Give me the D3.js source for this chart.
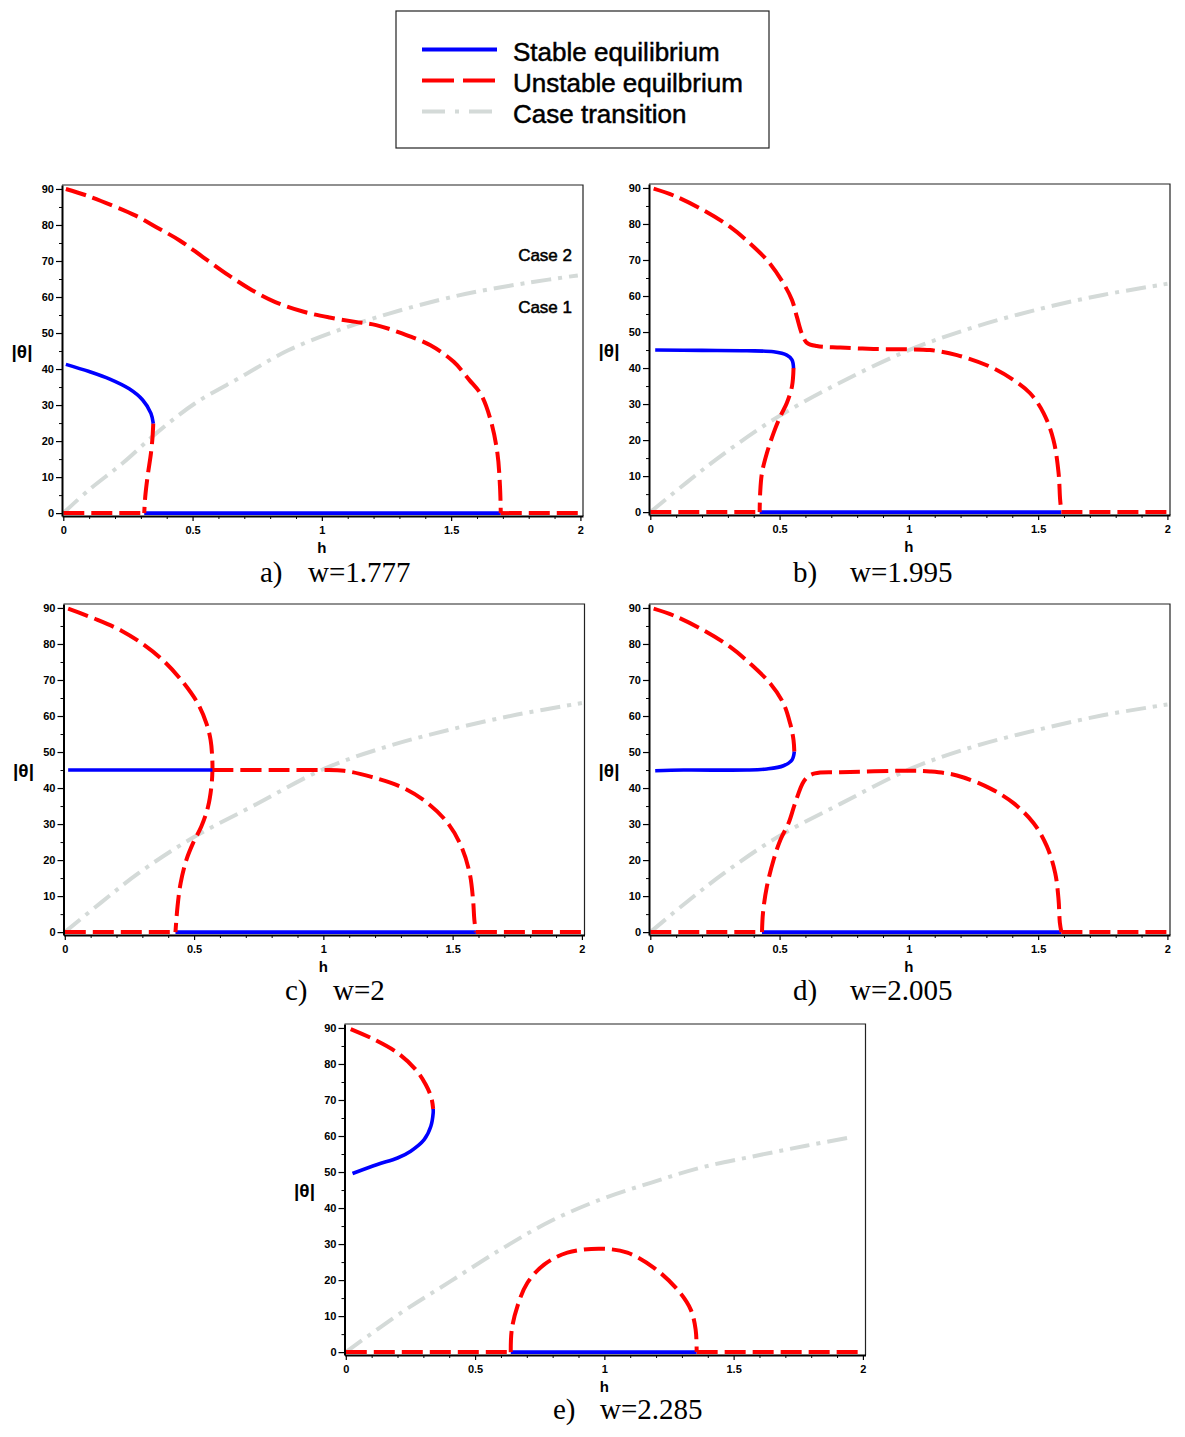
<!DOCTYPE html>
<html>
<head>
<meta charset="utf-8">
<script src="https://cdn.jsdelivr.net/npm/d3@7"></script>
<style>
    body { margin: 0; background: #fff; }
    svg { display: block; }
    .tick text { font-family: "Liberation Sans", Arial, sans-serif; font-weight: bold; font-size: 11px; fill: #000; }
    .axis-title { font-family: "Liberation Sans", Arial, sans-serif; font-weight: bold; }
    .caption { font-family: "Liberation Serif", "Times New Roman", serif; font-size: 29px; }
    .legend-text, .case-label { font-family: "Liberation Sans", Arial, sans-serif; stroke: #000; stroke-width: 0.5px; }
</style>
</head>
<body>
<svg id="chart" width="1185" height="1437"></svg>
<script>
// axis ticks
const hTicks = [0, 0.5, 1, 1.5, 2];
const hTickLabels = ['0', '0.5', '1', '1.5', '2'];
const hMinorTicks = [0.1, 0.2, 0.3, 0.4, 0.6, 0.7, 0.8, 0.9, 1.1, 1.2, 1.3, 1.4, 1.6, 1.7, 1.8, 1.9];
const thetaTicks = [0, 10, 20, 30, 40, 50, 60, 70, 80, 90];
const thetaMinorTicks = [5, 15, 25, 35, 45, 55, 65, 75, 85];

const legendLabels = ['Stable equilibrium', 'Unstable equilbrium', 'Case transition'];

// panel a) w=1.777   [h, |theta|]
const aUnstableUpper = [[0.01, 90], [0.09, 88.2], [0.19, 85.4], [0.28, 82.6], [0.36, 79.4], [0.45, 75.7], [0.54, 71.1], [0.64, 66], [0.73, 61.9], [0.82, 58.6], [0.93, 55.9], [1.03, 54.3], [1.13, 53.1], [1.21, 52.2], [1.31, 49.9], [1.42, 46.6], [1.51, 42], [1.57, 37], [1.615, 33], [1.653, 25.8], [1.679, 16.6], [1.689, 7.3], [1.692, 0]];
const aStableUpper = [[0.01, 41.3], [0.1, 39.3], [0.18, 37.2], [0.255, 34.5], [0.307, 31.4], [0.339, 27.7], [0.348, 24.9]];
const aUnstableLower = [[0.348, 24.9], [0.345, 21], [0.339, 16.6], [0.326, 10.2], [0.317, 4.6], [0.313, 0]];
const aZeroSplit = [0.313, 1.692];
const aTransition = [[0, 0], [0.1, 6.5], [0.23, 13.9], [0.36, 22.2], [0.51, 30.5], [0.69, 37.9], [0.87, 45.2], [1.08, 51.2], [1.26, 55.4], [1.45, 59.1], [1.6, 61.5], [1.8, 64], [1.99, 66]];

// panel b) w=1.995
const bUnstableUpper = [[0.013, 89.8], [0.09, 87.9], [0.206, 83.8], [0.309, 79.2], [0.387, 74.5], [0.457, 69.5], [0.515, 63.5], [0.548, 58.9], [0.567, 54.2], [0.586, 49.6], [0.606, 47], [0.644, 46.1], [0.735, 45.7], [0.863, 45.3], [0.992, 45.2], [1.082, 45], [1.186, 43.6], [1.314, 40.4], [1.405, 36.7], [1.469, 33], [1.521, 27.5], [1.559, 20.1], [1.579, 10.9], [1.585, 3.5], [1.59, 0]];
const bStableUpper = [[0.019, 45], [0.2, 44.9], [0.374, 44.8], [0.477, 44.5], [0.528, 43.6], [0.548, 42.3], [0.554, 40]];
const bUnstableLower = [[0.554, 40], [0.548, 34.9], [0.528, 30.3], [0.503, 26.6], [0.477, 22], [0.451, 16.4], [0.432, 10.9], [0.425, 5.4], [0.423, 0]];
const bZeroSplit = [0.423, 1.59];
const bTransition = [[0, 0], [0.14, 8.2], [0.284, 16.2], [0.49, 26.3], [0.735, 36], [1.005, 45.1], [1.25, 51.3], [1.5, 56.3], [1.75, 60.3], [2, 63.4]];

// panel c) w=2
const cUnstableLeft = [[0.013, 89.8], [0.116, 87], [0.219, 83.7], [0.309, 79.6], [0.387, 75], [0.457, 69.4], [0.515, 63.4], [0.548, 57.9], [0.564, 53.3], [0.57, 48.7], [0.571, 45], [0.567, 40.4], [0.554, 34.8], [0.528, 29.3], [0.496, 24.7], [0.47, 20], [0.448, 13.6], [0.436, 7.1], [0.428, 0]];
const cStableUpper = [[0.013, 45], [0.571, 45]];
const cUnstableRight = [[0.571, 45], [0.8, 45], [0.99, 45], [1.08, 44.8], [1.186, 43.1], [1.314, 39.9], [1.405, 35.7], [1.482, 30.2], [1.534, 23.7], [1.566, 16.3], [1.579, 9], [1.584, 3.4], [1.59, 0]];
const cZeroSplit = [0.428, 1.59];
const cTransition = [[0, 0], [0.14, 8.2], [0.284, 16.3], [0.49, 26], [0.735, 35.3], [1.005, 45.4], [1.25, 51.6], [1.5, 56.4], [1.75, 60.4], [2, 63.6]];

// panel d) w=2.005
const dUnstableUpper = [[0.013, 89.8], [0.09, 87.9], [0.206, 83.8], [0.309, 79.2], [0.387, 74.5], [0.464, 69], [0.515, 63.5], [0.541, 57.9], [0.554, 53.3], [0.557, 50.1]];
const dStableUpper = [[0.557, 50.1], [0.548, 47.8], [0.515, 46.2], [0.451, 45.3], [0.374, 45], [0.129, 45], [0.019, 44.8]];
const dUnstableLower = [[0.432, 0], [0.436, 5.4], [0.451, 12.7], [0.477, 20.1], [0.503, 25.6], [0.535, 30.3], [0.56, 35.8], [0.593, 41.8], [0.619, 43.6], [0.657, 44.3], [0.735, 44.4], [0.992, 44.8], [1.082, 44.6], [1.186, 43.5], [1.314, 39.9], [1.405, 35.8], [1.482, 30.3], [1.534, 23.8], [1.566, 16.4], [1.579, 9], [1.584, 2.6], [1.59, 0]];
const dZeroSplit = [0.432, 1.59];
const dTransition = [[0, 0], [0.14, 8.3], [0.284, 16.3], [0.49, 26.3], [0.735, 35.6], [1.005, 45.3], [1.25, 51.5], [1.5, 56.2], [1.75, 60.2], [2, 63.2]];

// panel e) w=2.285
const eUnstableUpper = [[0.019, 89.7], [0.11, 86.8], [0.2, 83.1], [0.271, 78.4], [0.309, 74.3], [0.331, 70.6], [0.338, 67.5]];
const eStableUpper = [[0.338, 67.5], [0.338, 66.4], [0.329, 62.7], [0.303, 59], [0.251, 55.8], [0.2, 53.9], [0.122, 52.1], [0.026, 49.6]];
const eUnstableDome = [[0.638, 0], [0.642, 6.3], [0.664, 12.8], [0.702, 19.2], [0.767, 24.3], [0.857, 27.6], [0.986, 28.7], [1.089, 27.6], [1.192, 23.4], [1.282, 17.4], [1.334, 11.8], [1.353, 6.3], [1.357, 0]];
const eZeroSplit = [0.638, 1.357];
const eTransition = [[0, 0], [0.213, 10.9], [0.406, 19.7], [0.599, 28.5], [0.793, 36.4], [0.986, 42.4], [1.179, 47], [1.372, 51.2], [1.579, 54.4], [1.78, 57.3], [1.965, 59.8]];

const styles = {
    stable: { color: '#0000ff', width: 3.6, dash: null },
    unstable: { color: '#ff0000', width: 4, dash: '21,7' },
    transition: { color: '#d4dad8', width: 4, dash: '20,7,4,7' }
};

// turns the two break points of the h-axis branch into three flat pieces
function zeroBranch(split) {
    return [
        { kind: 'unstable', data: [[0, 0], [split[0], 0]] },
        { kind: 'stable', data: [[split[0], 0], [split[1], 0]] },
        { kind: 'unstable', data: [[split[1], 0], [2, 0]] }
    ];
}

const panels = [
    { left: 62, top: 185, letter: 'a)', label: 'w=1.777', letterX: 260, labelX: 308, baseline: 582,
      series: [{ kind: 'transition', data: aTransition }, ...zeroBranch(aZeroSplit),
               { kind: 'unstable', data: aUnstableUpper }, { kind: 'unstable', data: aUnstableLower },
               { kind: 'stable', data: aStableUpper }] },
    { left: 649, top: 184, letter: 'b)', label: 'w=1.995', letterX: 793, labelX: 850, baseline: 582,
      series: [{ kind: 'transition', data: bTransition }, ...zeroBranch(bZeroSplit),
               { kind: 'unstable', data: bUnstableUpper }, { kind: 'unstable', data: bUnstableLower },
               { kind: 'stable', data: bStableUpper }] },
    { left: 63.5, top: 604, letter: 'c)', label: 'w=2', letterX: 285, labelX: 333, baseline: 1000,
      series: [{ kind: 'transition', data: cTransition }, ...zeroBranch(cZeroSplit),
               { kind: 'unstable', data: cUnstableLeft }, { kind: 'unstable', data: cUnstableRight },
               { kind: 'stable', data: cStableUpper }] },
    { left: 649, top: 604, letter: 'd)', label: 'w=2.005', letterX: 793, labelX: 850, baseline: 1000,
      series: [{ kind: 'transition', data: dTransition }, ...zeroBranch(dZeroSplit),
               { kind: 'unstable', data: dUnstableUpper }, { kind: 'unstable', data: dUnstableLower },
               { kind: 'stable', data: dStableUpper }] },
    { left: 344.5, top: 1024, letter: 'e)', label: 'w=2.285', letterX: 553, labelX: 600, baseline: 1419,
      series: [{ kind: 'transition', data: eTransition }, ...zeroBranch(eZeroSplit),
               { kind: 'unstable', data: eUnstableUpper }, { kind: 'unstable', data: eUnstableDome },
               { kind: 'stable', data: eStableUpper }] }
];

const PANEL_W = 521;
const PANEL_H = 331;

const svg = d3.select('#chart');
svg.append('rect').attr('width', 1185).attr('height', 1437).attr('fill', '#fff');

function drawPanel(p) {
    const x = d3.scaleLinear().domain([-0.005, 2.01]).range([p.left, p.left + PANEL_W]);
    const y = d3.scaleLinear().domain([-0.8, 91.1]).range([p.top + PANEL_H, p.top]);
    const g = svg.append('g');

    // frame (top and right)
    g.append('path')
        .attr('d', `M${p.left},${p.top}H${p.left + PANEL_W}V${p.top + PANEL_H}`)
        .attr('fill', 'none').attr('stroke', '#222').attr('stroke-width', 1.2);

    const line = d3.line()
        .x(d => x(d[0]))
        .y(d => y(d[1]))
        .curve(d3.curveCatmullRom.alpha(0.5));

    p.series.forEach(s => {
        const st = styles[s.kind];
        g.append('path')
            .datum(s.data)
            .attr('d', line)
            .attr('fill', 'none')
            .attr('stroke', st.color)
            .attr('stroke-width', st.width)
            .attr('stroke-dasharray', st.dash)
            .attr('stroke-linecap', 'butt');
    });

    // left axis
    const yAxis = g.append('g').attr('transform', `translate(${p.left},0)`)
        .call(d3.axisLeft(y).tickValues(thetaTicks).tickSize(6).tickSizeOuter(0).tickPadding(2));
    g.append('g').attr('transform', `translate(${p.left},0)`)
        .call(d3.axisLeft(y).tickValues(thetaMinorTicks).tickSize(3).tickSizeOuter(0).tickFormat(''))
        .select('.domain').remove();

    // bottom axis
    const bottom = p.top + PANEL_H;
    const xAxis = g.append('g').attr('transform', `translate(0,${bottom})`)
        .call(d3.axisBottom(x).tickValues(hTicks).tickSize(5).tickSizeOuter(0).tickPadding(5)
            .tickFormat((d, i) => hTickLabels[i]));
    g.append('g').attr('transform', `translate(0,${bottom})`)
        .call(d3.axisBottom(x).tickValues(hMinorTicks).tickSize(3).tickSizeOuter(0).tickFormat(''))
        .select('.domain').remove();

    [yAxis, xAxis].forEach(ax => {
        ax.select('.domain').attr('stroke', '#000').attr('stroke-width', 2);
        ax.selectAll('.tick line').attr('stroke', '#000').attr('stroke-width', 1.2);
    });
    g.selectAll('.tick line').attr('stroke', '#000');

    g.append('text').attr('class', 'axis-title')
        .attr('x', x(1)).attr('y', bottom + 37)
        .attr('text-anchor', 'middle').style('font-size', '15px')
        .text('h');
    g.append('text').attr('class', 'axis-title')
        .attr('x', p.left - 40).attr('y', y(45)).attr('dy', '0.36em')
        .attr('text-anchor', 'middle').style('font-size', '19px')
        .text('|θ|');

    g.append('text').attr('class', 'caption')
        .attr('x', p.letterX).attr('y', p.baseline).text(p.letter);
    g.append('text').attr('class', 'caption')
        .attr('x', p.labelX).attr('y', p.baseline).text(p.label);

    return { x, y, g };
}

const drawn = panels.map(drawPanel);

// case labels on panel a
const pa = drawn[0];
pa.g.append('text').attr('class', 'case-label')
    .attr('x', 572).attr('y', 261).attr('text-anchor', 'end')
    .style('font-size', '17px').text('Case 2');
pa.g.append('text').attr('class', 'case-label')
    .attr('x', 572).attr('y', 313).attr('text-anchor', 'end')
    .style('font-size', '17px').text('Case 1');

// legend
const legend = svg.append('g');
legend.append('rect')
    .attr('x', 396).attr('y', 11).attr('width', 373).attr('height', 137)
    .attr('fill', '#fff').attr('stroke', '#222').attr('stroke-width', 1.2);

const legendKinds = ['stable', 'unstable', 'transition'];
const legendDash = { stable: null, unstable: '32,9', transition: '23,10,4,10' };
legendKinds.forEach((k, i) => {
    const ly = 49.5 + i * 31;
    legend.append('line')
        .attr('x1', 422).attr('x2', 497).attr('y1', ly).attr('y2', ly)
        .attr('stroke', styles[k].color).attr('stroke-width', 4.2)
        .attr('stroke-dasharray', legendDash[k]);
    legend.append('text').attr('class', 'legend-text')
        .attr('x', 513).attr('y', ly + 11)
        .style('font-size', '26px')
        .text(legendLabels[i]);
});
</script>
</body>
</html>
